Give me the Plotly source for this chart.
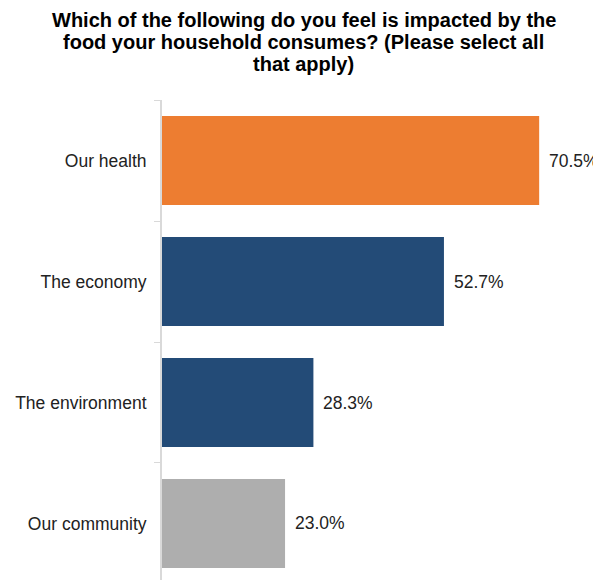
import plotly.graph_objects as go

categories = ["Our community", "The environment", "The economy", "Our health"]
values = [23.0, 28.3, 52.7, 70.5]
colors = ["#AEAEAE", "#234B77", "#234B77", "#ED7D31"]
labels = ["23.0%", "28.3%", "52.7%", "70.5%"]
title_lines = [
    "Which of the following do you feel is impacted by the",
    "food your household consumes? (Please select all",
    "that apply)",
]

FONT = "Arial, 'Liberation Sans', sans-serif"

# page body has an 8px default margin: compensate in size/margins
W, H = 593, 572
ML, MR, MT, MB = 154, 11, 92, 0
PW, PH = W - ML - MR, H - MT - MB

fig = go.Figure(
    go.Bar(
        x=values,
        y=categories,
        orientation="h",
        marker=dict(color=colors, line=dict(width=0)),
        hoverinfo="skip",
    )
)

for v, c, t in zip(values, categories, labels):
    fig.add_annotation(
        x=v, y=c, text=t, showarrow=False, xanchor="left", yanchor="middle",
        xshift=8, font=dict(family=FONT, size=17.5, color="#222222"),
    )

# title as three centred lines (tighter line spacing than plotly's default)
title_centres = [12.2, 34.0, 56.2]  # px from top of figure
for line, yc in zip(title_lines, title_centres):
    fig.add_annotation(
        xref="paper", yref="paper",
        x=(295.5 - ML) / PW, y=1 + (MT - yc) / PH,
        text="<b>" + line + "</b>", showarrow=False,
        xanchor="center", yanchor="middle",
        font=dict(family=FONT, size=20, color="#000000"),
    )

fig.update_layout(
    width=W,
    height=H,
    margin=dict(l=ML, r=MR, t=MT, b=MB),
    paper_bgcolor="white",
    plot_bgcolor="white",
    bargap=0.265,
    showlegend=False,
    xaxis=dict(
        range=[0, 80],
        visible=False,
        showgrid=False,
        zeroline=False,
    ),
    yaxis=dict(
        type="category",
        categoryorder="array",
        categoryarray=categories,
        range=[-0.467, 3.5],
        showline=True,
        linecolor="#D9D9D9",
        linewidth=2,
        ticks="outside",
        tickson="boundaries",
        ticklen=6,
        tickcolor="#D9D9D9",
        tickwidth=1,
        showgrid=False,
        zeroline=False,
        ticklabelstandoff=10,
        tickfont=dict(family=FONT, size=17.5, color="#222222"),
    ),
)

fig.write_html("out.html")
